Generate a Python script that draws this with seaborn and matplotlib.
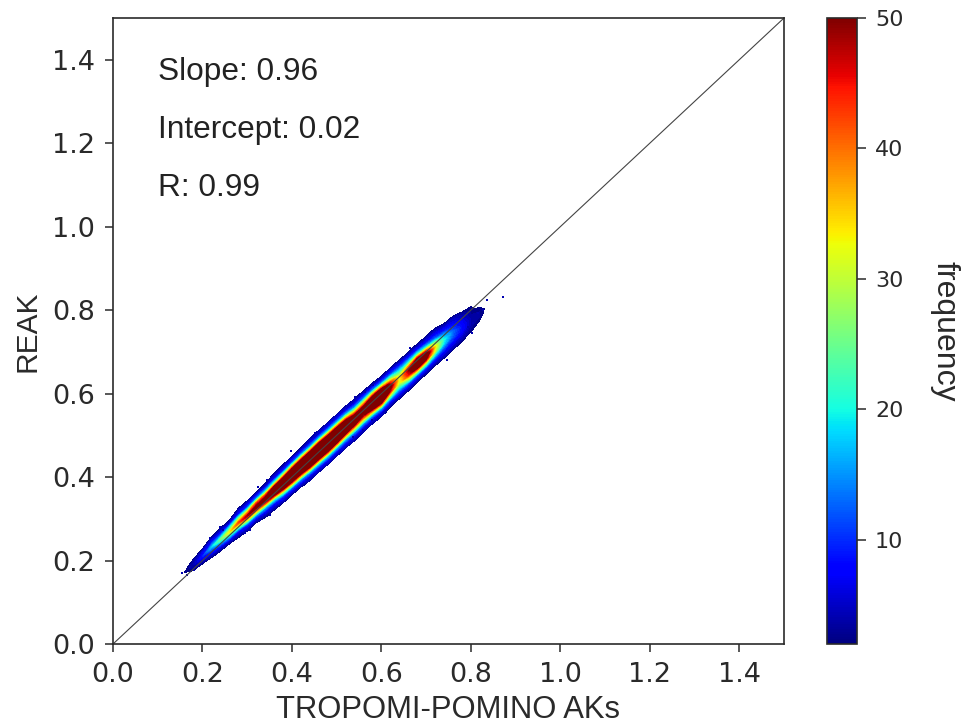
import numpy as np
import matplotlib
matplotlib.use("Agg")
import matplotlib.pyplot as plt
import seaborn as sns

# posiciones a lo largo de la banda y desplazamiento vertical respecto al centro
x_stations = [0.16, 0.18, 0.20, 0.22, 0.24, 0.26, 0.28, 0.30, 0.32, 0.34, 0.36, 0.38,
              0.40, 0.42, 0.44, 0.46, 0.48, 0.50, 0.52, 0.54, 0.56, 0.58, 0.60, 0.62,
              0.64, 0.66, 0.68, 0.70, 0.72, 0.74, 0.76, 0.78, 0.80, 0.82, 0.84, 0.86]
y_centers = [0.172, 0.190, 0.210, 0.232, 0.250, 0.268, 0.290, 0.307, 0.328, 0.346, 0.366, 0.384,
             0.404, 0.424, 0.442, 0.462, 0.480, 0.500, 0.520, 0.537, 0.558, 0.578, 0.595, 0.616,
             0.635, 0.654, 0.674, 0.692, 0.712, 0.730, 0.748, 0.762, 0.778, 0.796, 0.812, 0.830]
offsets = [-0.05, -0.04, -0.03, -0.02, -0.01, 0.0, 0.01, 0.02, 0.03, 0.04, 0.05]
frequency = [
    [0, 0, 0, 0, 0, 2, 0, 0, 0, 0, 0],
    [0, 0, 0, 0, 3, 4, 3, 0, 0, 0, 0],
    [0, 0, 0, 1, 5, 9, 6, 1, 0, 0, 0],
    [0, 0, 0, 4, 9, 17, 9, 4, 0, 0, 0],
    [0, 0, 1, 5, 13, 25, 12, 5, 1, 0, 0],
    [0, 0, 1, 6, 18, 33, 20, 6, 1, 0, 0],
    [0, 0, 4, 8, 24, 42, 26, 8, 4, 0, 0],
    [0, 0, 5, 11, 32, 48, 32, 11, 5, 0, 0],
    [0, 1, 5, 14, 36, 52, 40, 14, 5, 0, 0],
    [0, 3, 7, 16, 40, 55, 42, 17, 6, 1, 0],
    [0, 4, 8, 20, 48, 60, 50, 22, 7, 3, 0],
    [0, 5, 10, 28, 56, 65, 58, 30, 10, 4, 0],
    [0, 5, 12, 35, 60, 70, 62, 37, 12, 5, 0],
    [1, 6, 14, 38, 64, 75, 66, 38, 14, 5, 0],
    [3, 6, 16, 42, 68, 78, 70, 42, 16, 6, 3],
    [3, 7, 18, 44, 70, 80, 72, 44, 17, 6, 3],
    [3, 7, 18, 44, 70, 80, 70, 44, 18, 7, 3],
    [3, 7, 17, 42, 68, 78, 68, 42, 17, 7, 3],
    [3, 7, 16, 38, 62, 72, 62, 38, 16, 6, 3],
    [3, 6, 14, 32, 52, 60, 52, 32, 14, 6, 3],
    [3, 6, 14, 32, 48, 52, 50, 32, 14, 6, 1],
    [3, 6, 16, 38, 62, 72, 60, 36, 14, 5, 1],
    [3, 6, 16, 42, 66, 78, 66, 38, 14, 5, 0],
    [1, 5, 13, 28, 46, 52, 44, 26, 11, 5, 0],
    [1, 5, 11, 20, 30, 32, 28, 18, 10, 4, 0],
    [1, 5, 12, 28, 44, 48, 38, 20, 10, 4, 0],
    [1, 5, 12, 32, 56, 64, 48, 22, 9, 4, 0],
    [0, 4, 10, 26, 48, 58, 42, 18, 8, 4, 0],
    [0, 4, 8, 18, 30, 34, 26, 12, 7, 4, 0],
    [0, 4, 7, 12, 18, 20, 16, 9, 5, 1, 0],
    [0, 3, 6, 9, 12, 13, 10, 7, 5, 1, 0],
    [0, 1, 4, 6, 8, 8, 7, 5, 3, 0, 0],
    [0, 0, 2, 3, 4, 4, 3, 3, 2, 0, 0],
    [0, 0, 0, 2, 3, 3, 2, 0, 0, 0, 0],
    [0, 0, 0, 0, 0, 1, 0, 0, 0, 0, 0],
    [0, 0, 0, 0, 0, 0, 0, 0, 0, 0, 0],
]
# puntos sueltos en el borde de la banda
stray_x = [0.154, 0.172, 0.165, 0.180, 0.239, 0.247, 0.217, 0.325, 0.306, 0.295, 0.344, 0.399,
           0.452, 0.351, 0.329, 0.541, 0.563, 0.582, 0.664, 0.746, 0.731, 0.802, 0.835, 0.768,
           0.816, 0.872, 0.642, 0.578, 0.559, 0.537, 0.805, 0.827, 0.794]
stray_y = [0.171, 0.185, 0.165, 0.177, 0.280, 0.273, 0.253, 0.377, 0.273, 0.265, 0.393, 0.463,
           0.505, 0.309, 0.297, 0.593, 0.605, 0.621, 0.709, 0.681, 0.681, 0.745, 0.824, 0.788,
           0.793, 0.832, 0.593, 0.537, 0.513, 0.497, 0.769, 0.800, 0.760]
one_to_one = [0.0, 1.5]
axis_ticks = [0.0, 0.2, 0.4, 0.6, 0.8, 1.0, 1.2, 1.4]
cbar_ticks = [10, 20, 30, 40, 50]
stats_labels = ["Slope: 0.96", "Intercept: 0.02", "R: 0.99"]
stats_y = [1.351, 1.212, 1.073]

sns.set_style("ticks")
plt.rcParams["font.family"] = ["DejaVu Sans"]
ink = "#2a2a2a"

fig = plt.figure(figsize=(9.63, 7.27), dpi=100)
ax = fig.add_axes([113 / 963, 1 - 644 / 727, 671 / 963, 626 / 727])
cax = fig.add_axes([827 / 963, 1 - 644 / 727, 30 / 963, 626 / 727])

# malla inclinada que sigue la banda
xx = np.array(x_stations)[:, None] * np.ones((1, len(offsets)))
yy = np.array(y_centers)[:, None] + np.array(offsets)[None, :]
zz = np.array(frequency, dtype=float)

levels = np.arange(2, 51, 1)
mesh = ax.contourf(xx, yy, zz, levels=levels, cmap="jet", extend="max")
mesh.cmap.set_over(plt.get_cmap("jet")(1.0))

sns.scatterplot(x=stray_x, y=stray_y, marker="s", s=3, color="#0000b0", linewidth=0, ax=ax)
sns.lineplot(x=one_to_one, y=one_to_one, color="#444444", linewidth=0.8, ax=ax)

ax.set_xlim(0, 1.5)
ax.set_ylim(0, 1.5)
ax.set_xticks(axis_ticks)
ax.set_yticks(axis_ticks)
ax.tick_params(labelsize=19.5, length=5.8, width=1.1, pad=7, color=ink, labelcolor=ink)
for s in ax.spines.values():
    s.set_visible(True)
    s.set_linewidth(1.2)
    s.set_color(ink)
ax.set_xlabel("TROPOMI-POMINO AKs", fontsize=22.3, family="Liberation Sans", color=ink, labelpad=5)
ax.set_ylabel("REAK", fontsize=21.5, family="Liberation Sans", color=ink, labelpad=8)

for label, y in zip(stats_labels, stats_y):
    ax.text(0.1, y, label, fontsize=22.8, family="Liberation Sans", color="#222222", va="baseline")

norm = matplotlib.colors.Normalize(vmin=2, vmax=50)
cb = fig.colorbar(matplotlib.cm.ScalarMappable(norm=norm, cmap="jet"), cax=cax, ticks=cbar_ticks)
cb.ax.tick_params(labelsize=16, length=6.5, width=1.1, pad=6.5, color=ink, labelcolor=ink)
cb.outline.set_linewidth(1.2)
cb.outline.set_edgecolor(ink)
cb.set_label("frequency", rotation=270, fontsize=23, family="Liberation Sans", color=ink, labelpad=40)

fig.savefig("out.png", dpi=100)
